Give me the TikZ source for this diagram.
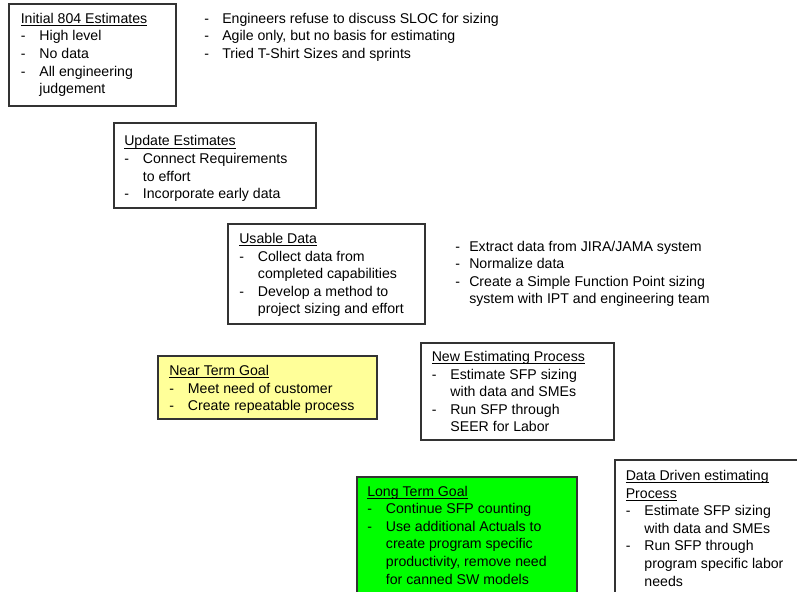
\documentclass[tikz,border=0pt]{standalone}
\usepackage{fontspec}
\setmainfont{Liberation Sans}
\definecolor{nearY}{HTML}{FFFF99}
\definecolor{longG}{HTML}{00FF00}
\definecolor{frameC}{HTML}{333333}
\newlength\dw
\setlength\dw{14pt}
\newcommand\ulx[1]{\leavevmode\setbox0\hbox{#1}\rlap{\rule[-1.8pt]{\wd0}{0.6pt}}\box0}
\newcommand\dsh{\leavevmode\makebox[\dw][l]{-}}
\newcommand\ind{\leavevmode\hspace*{\dw}}
\begin{document}
\begin{tikzpicture}[x=0.75pt,y=-0.75pt,
  frame/.style={draw=frameC, line width=0.9pt, fill=white},
  txt/.style={anchor=base west, inner sep=0pt, font=\fontsize{10.6}{13.2}\selectfont}]
\useasboundingbox (0,0) rectangle (797,592);
\clip (0,0) rectangle (797,592);

% boxes
\path[frame] (9,4) rectangle (176,106) coordinate (b1);
\path[frame] (114,123) rectangle (316,208) coordinate (b2);
\path[frame] (228,224) rectangle (425,324) coordinate (b3);
\path[frame, fill=nearY] (158,356) rectangle (377,419) coordinate (b4);
\path[frame] (421,343) rectangle (614,440) coordinate (b5);
\path[frame, fill=longG] (357,477) rectangle (577,610) coordinate (b6);
\path[frame] (615,460) rectangle (810,610) coordinate (b7);

% texts
\node[txt] (t1) at (20.5,23.3) {\parbox[t]{150pt}{\ulx{Initial 804 Estimates}\\
\dsh High level\\
\dsh No data\\
\dsh All engineering\\
\ind judgement}};

\node[txt] (r1) at (204,23.3) {\parbox[t]{300pt}{\setlength\dw{13.5pt}\dsh Engineers refuse to discuss SLOC for sizing\\
\dsh Agile only, but no basis for estimating\\
\dsh Tried T-Shirt Sizes and sprints}};

\node[txt] (t2) at (124,146) {\parbox[t]{180pt}{\ulx{Update Estimates}\\
\dsh Connect Requirements\\
\ind to effort\\
\dsh Incorporate early data}};

\node[txt] (t3) at (239,243.5) {\parbox[t]{180pt}{\ulx{Usable Data}\\
\dsh Collect data from\\
\ind completed capabilities\\
\dsh Develop a method to\\
\ind project sizing and effort}};

\node[txt] (r3) at (455,251) {\parbox[t]{300pt}{\setlength\dw{10.5pt}\dsh Extract data from JIRA/JAMA system\\
\dsh Normalize data\\
\dsh Create a Simple Function Point sizing\\
\ind system with IPT and engineering team}};

\node[txt] (t4) at (169,375.5) {\parbox[t]{200pt}{\ulx{Near Term Goal}\\
\dsh Meet need of customer\\
\dsh Create repeatable process}};

\node[txt] (t5) at (431.5,361.5) {\parbox[t]{180pt}{\ulx{New Estimating Process}\\
\dsh Estimate SFP sizing\\
\ind with data and SMEs\\
\dsh Run SFP through\\
\ind SEER for Labor}};

\node[txt] (t6) at (367,496) {\parbox[t]{200pt}{\ulx{Long Term Goal}\\
\dsh Continue SFP counting\\
\dsh Use additional Actuals to\\
\ind create program specific\\
\ind productivity, remove need\\
\ind for canned SW models}};

\node[txt] (t7) at (625.5,480.5) {\parbox[t]{180pt}{\ulx{Data Driven estimating}\\
\ulx{Process}\\
\dsh Estimate SFP sizing\\
\ind with data and SMEs\\
\dsh Run SFP through\\
\ind program specific labor\\
\ind needs}};
\end{tikzpicture}
\end{document}
